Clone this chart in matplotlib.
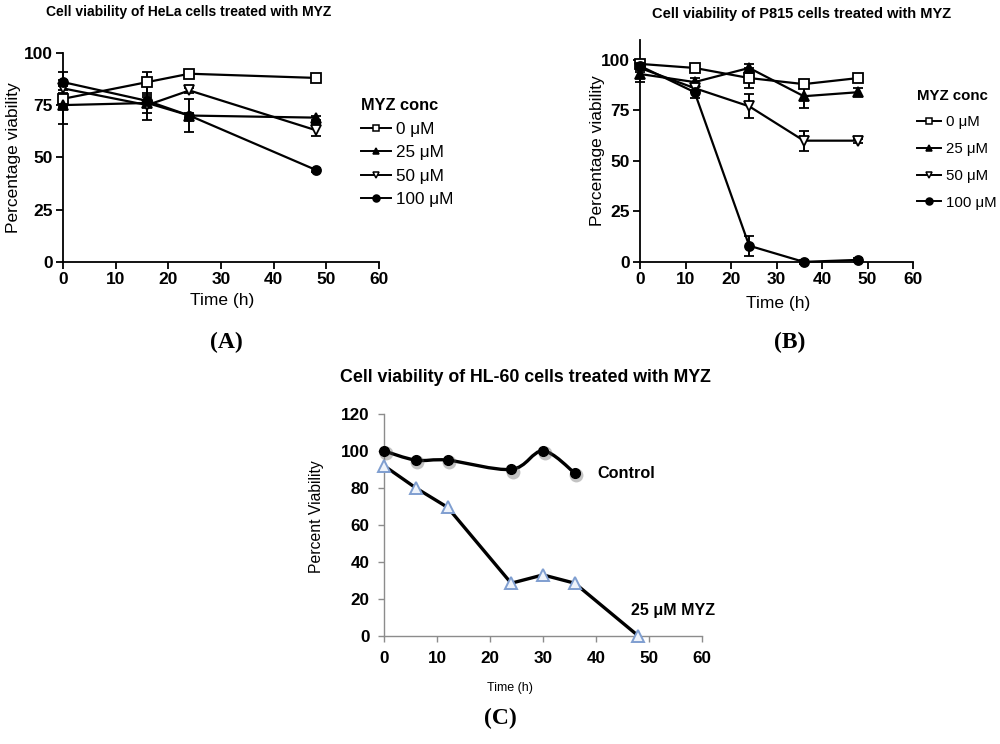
import numpy as np
import matplotlib
matplotlib.use("Agg")
import matplotlib.pyplot as plt
from matplotlib.path import Path
from matplotlib.patches import PathPatch
from matplotlib.lines import Line2D

plt.rcParams['font.family'] = ['Liberation Sans', 'DejaVu Sans']

# ---------------- data ----------------
# Panel A : HeLa
hela_time = [0, 16, 24, 48]
hela_0 = [78, 86, 90, 88]
hela_0_err = [4, 5, 1, 1]
hela_25 = [75, 76, 70, 69]
hela_25_err = [9, 8, 8, 1]
hela_50 = [83, 75, 82, 63]
hela_50_err = [4, 4, 1, 3]
hela_100 = [86, 77, 70, 44]
hela_100_err = [5, 3, 1, 1]

# Panel B : P815
p815_time = [0, 12, 24, 36, 48]
p815_0 = [98, 96, 91, 88, 91]
p815_0_err = [2, 2, 5, 2, 2]
p815_25 = [93, 89, 96, 82, 84]
p815_25_err = [4, 2, 2, 6, 2]
p815_50 = [96, 86, 77, 60, 60]
p815_50_err = [2, 2, 6, 5, 1]
p815_100 = [97, 84, 8, 0, 1]
p815_100_err = [2, 3, 5, 1, 1]

# Panel C : HL-60
hl60_time_ctrl = [0, 6, 12, 24, 30, 36]
hl60_ctrl = [100, 95, 95, 90, 100, 88]
hl60_time_myz = [0, 6, 12, 24, 30, 36, 48]
hl60_myz = [92, 80, 69.5, 28.5, 33, 28.5, 0]

legend_labels = ["0 \u03bcM", "25 \u03bcM", "50 \u03bcM", "100 \u03bcM"]
series_styles = [
    dict(marker='s', mfc='white'),
    dict(marker='^', mfc='black'),
    dict(marker='v', mfc='white'),
    dict(marker='o', mfc='black'),
]

fig = plt.figure(figsize=(10, 7.44), dpi=100)


def style_prism(ax):
    for s in ['top', 'right']:
        ax.spines[s].set_visible(False)
    for s in ['left', 'bottom']:
        ax.spines[s].set_linewidth(1.3)
    ax.tick_params(direction='out', length=5, width=1.3, labelsize=12.5, pad=2.5)
    for lab in ax.get_xticklabels() + ax.get_yticklabels():
        lab.set_fontweight('bold')


def draw_series(ax, t, ys, errs):
    for y, e, st in zip(ys, errs, series_styles):
        ax.errorbar(t, y, yerr=e, color='black', lw=1.6, capsize=3.3,
                    capthick=1.4, elinewidth=1.4, marker=st['marker'],
                    markersize=6.5, mfc=st['mfc'], mec='black', mew=1.3,
                    clip_on=False, zorder=3)


def add_legend(ax, anchor, fs, tfs, spacing, hl):
    handles = [Line2D([], [], color='black', lw=1.4, marker=st['marker'],
                      markersize=5, mfc=st['mfc'], mec='black', mew=1.1)
               for st in series_styles]
    leg = ax.legend(handles, legend_labels, loc='upper left',
                    bbox_to_anchor=anchor, bbox_transform=fig.transFigure,
                    frameon=False, title='MYZ conc', fontsize=fs,
                    title_fontproperties={'weight': 'bold', 'size': tfs},
                    handlelength=hl, handletextpad=0.3, labelspacing=spacing,
                    borderpad=0, borderaxespad=0)
    leg._legend_box.align = 'left'


# ---------------- Panel A ----------------
axA = fig.add_axes([0.063, 0.648, 0.316, 0.281])
draw_series(axA, hela_time, [hela_0, hela_25, hela_50, hela_100],
            [hela_0_err, hela_25_err, hela_50_err, hela_100_err])
axA.set_xlim(0, 60)
axA.set_ylim(0, 100)
axA.set_xticks(range(0, 61, 10))
axA.set_yticks([0, 25, 50, 75, 100])
style_prism(axA)
axA.set_ylabel('Percentage viability', fontsize=12.5)
axA.yaxis.set_label_coords(-0.133, 0.5)
axA.set_xlabel('Time (h)', fontsize=12.5)
axA.xaxis.set_label_coords(0.503, -0.148)
fig.text(0.189, 0.984, 'Cell viability of HeLa cells treated with MYZ',
         ha='center', va='center', fontsize=10, fontweight='bold')
add_legend(axA, (0.361, 0.868), 12.3, 11.8, 0.5, 1.75)

# ---------------- Panel B ----------------
axB = fig.add_axes([0.640, 0.648, 0.273, 0.2987])
draw_series(axB, p815_time, [p815_0, p815_25, p815_50, p815_100],
            [p815_0_err, p815_25_err, p815_50_err, p815_100_err])
axB.set_xlim(0, 60)
axB.set_ylim(0, 110)
axB.set_xticks(range(0, 61, 10))
axB.set_yticks([0, 25, 50, 75, 100])
style_prism(axB)
axB.set_ylabel('Percentage viability', fontsize=12.5)
axB.yaxis.set_label_coords(-0.128, 0.5)
axB.set_xlabel('Time (h)', fontsize=12.5)
axB.xaxis.set_label_coords(0.505, -0.153)
fig.text(0.802, 0.981, 'Cell viability of P815 cells treated with MYZ',
         ha='center', va='center', fontsize=10.5, fontweight='bold')
add_legend(axB, (0.917, 0.881), 10.8, 10.8, 0.85, 1.6)

# ---------------- Panel C ----------------
axC = fig.add_axes([0.384, 0.1452, 0.318, 0.2985])
gray = '#8c8c8c'
for s in ['top', 'right']:
    axC.spines[s].set_visible(False)
for s in ['left', 'bottom']:
    axC.spines[s].set_color(gray)
    axC.spines[s].set_linewidth(1.0)
axC.tick_params(direction='out', length=4, width=1.0, color=gray,
                labelsize=12.3, pad=6.5)
axC.set_xlim(0, 60)
axC.set_ylim(0, 120)
axC.set_xticks(range(0, 61, 10))
axC.set_yticks(range(0, 121, 20))
for lab in axC.get_xticklabels() + axC.get_yticklabels():
    lab.set_fontweight('bold')

# smoothed control line (Bezier through the data points)
px = np.array(hl60_time_ctrl, dtype=float)
py = np.array(hl60_ctrl, dtype=float)
verts = [(px[0], py[0])]
codes = [Path.MOVETO]
n = len(px)
for i in range(n - 1):
    p0 = np.array([px[max(i - 1, 0)], py[max(i - 1, 0)]])
    p1 = np.array([px[i], py[i]])
    p2 = np.array([px[i + 1], py[i + 1]])
    p3 = np.array([px[min(i + 2, n - 1)], py[min(i + 2, n - 1)]])
    c1 = p1 + (p2 - p0) / 6.0
    c2 = p2 - (p3 - p1) / 6.0
    verts += [tuple(c1), tuple(c2), tuple(p2)]
    codes += [Path.CURVE4] * 3
axC.add_patch(PathPatch(Path(verts, codes), fill=False, lw=2.4,
                        edgecolor='black', zorder=3, clip_on=False))
# shadow + markers
axC.plot(np.array(hl60_time_ctrl) + 0.3, np.array(hl60_ctrl) - 1.2, 'o',
         ms=10, color='#555555', alpha=0.35, mew=0, zorder=3.5, clip_on=False)
axC.plot(hl60_time_ctrl, hl60_ctrl, 'o', ms=7, color='black', zorder=4,
         clip_on=False)

axC.plot(hl60_time_myz, hl60_myz, '-', color='black', lw=2.4, zorder=3,
         clip_on=False)
axC.plot(hl60_time_myz, hl60_myz, '^', ms=8, mfc='#eef3fb', mec='#7f9ed0',
         mew=1.4, zorder=4, clip_on=False)

axC.text(45.8, 88, 'Control', fontsize=11.7, fontweight='bold',
         ha='center', va='center')
axC.text(54.5, 14, '25 \u03bcM MYZ', fontsize=11.5, fontweight='bold',
         ha='center', va='center')
axC.set_ylabel('Percent Viability', fontsize=11.3)
axC.yaxis.set_label_coords(-0.19, 0.536)
axC.set_xlabel('Time (h)', fontsize=9)
axC.xaxis.set_label_coords(0.396, -0.207)
fig.text(0.525, 0.492, 'Cell viability of HL-60 cells treated with MYZ',
         ha='center', va='center', fontsize=12.8, fontweight='bold')

# panel letters
for x, y, s in [(0.226, 0.540, 'A'), (0.790, 0.540, 'B'), (0.500, 0.035, 'C')]:
    fig.text(x, y, '(' + s + ')', ha='center', va='center', fontsize=17,
             fontweight='bold', family=['Liberation Serif', 'DejaVu Serif'])

fig.savefig('out.png', dpi=100)
